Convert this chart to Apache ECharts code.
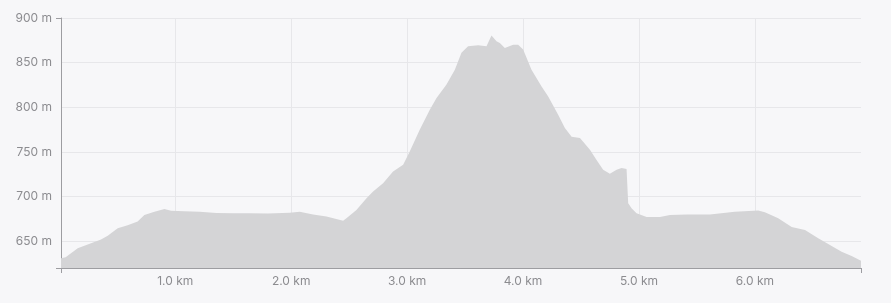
<!DOCTYPE html>
<html>
<head>
<meta charset="utf-8">
<script src="https://cdn.jsdelivr.net/npm/echarts@6/dist/echarts.min.js"></script>
<style>
html,body{margin:0;padding:0;background:#f7f7f9;}
#chart{width:891px;height:303px;}
</style>
</head>
<body>
<div id="chart"></div>
<script>
// distance along the route (km)
const distanceKm = [
  0.015, 0.055, 0.159, 0.274, 0.360, 0.418, 0.504, 0.590, 0.676, 0.734,
  0.821, 0.907, 0.964, 1.079, 1.211, 1.355, 1.500, 1.643, 1.800, 1.988,
  2.074, 2.189, 2.305, 2.448, 2.477, 2.563, 2.650, 2.707, 2.793, 2.879,
  2.966, 3.023, 3.110, 3.196, 3.254, 3.340, 3.412, 3.469, 3.526, 3.613,
  3.685, 3.728, 3.771, 3.800, 3.843, 3.915, 3.958, 4.001, 4.073, 4.160,
  4.217, 4.303, 4.361, 4.419, 4.491, 4.577, 4.634, 4.691, 4.749, 4.807,
  4.850, 4.893, 4.907, 4.936, 4.979, 5.066, 5.181, 5.267, 5.411, 5.611,
  5.827, 6.028, 6.086, 6.201, 6.317, 6.432, 6.546, 6.662, 6.748, 6.834,
  6.915
];
// elevation (m)
const elevationM = [
  631, 632, 642, 647.7, 652, 656, 664.5, 668, 672, 679.5,
  683, 686, 684, 683.6, 683, 681.7, 681.2, 681.4, 681.0, 682,
  683, 680, 677.6, 673, 675.7, 685, 698, 705.6, 715, 728,
  735.6, 750.5, 775, 797.3, 810.4, 825.4, 842, 861, 868.4, 869.5,
  868.4, 880.4, 874, 872, 866.5, 870, 870, 864.6, 842, 823.4,
  812, 791.7, 776.8, 767, 765.5, 752.4, 741, 730, 725.5, 730,
  732, 730.8, 692.6, 687, 681.4, 677, 677, 679.5, 680, 680,
  683, 684.3, 682.5, 675.8, 666, 662.6, 653.3, 644.7, 638.3, 633.4,
  628
];
const xMin = 0.015, xMax = 6.915;
const yMin = 620, yMax = 900;

const profile = distanceKm.map((d, i) => [d, elevationM[i]]);

const labelColor = '#8c8c90';
const axisColor = '#9d9da1';
const gridColor = '#e7e7ea';
const fontFamily = 'Inter, "Noto Sans", sans-serif';

const chart = echarts.init(document.getElementById('chart'));
chart.setOption({
  animation: false,
  backgroundColor: '#f7f7f9',
  grid: { left: 61, top: 18, width: 800, height: 250, containLabel: false },
  xAxis: [{
    type: 'value', min: xMin, max: xMax, minInterval: 1, maxInterval: 1,
    axisLine: { show: true, lineStyle: { color: axisColor, width: 1 } },
    axisTick: { show: false },
    axisLabel: {
      color: labelColor, fontSize: 12, fontFamily: fontFamily, margin: 7,
      showMinLabel: false, showMaxLabel: false,
      formatter: v => v.toFixed(1) + ' km'
    },
    splitLine: { show: true, showMinLine: false, showMaxLine: false, lineStyle: { color: gridColor, width: 1 } }
  }, {
    type: 'value', min: xMin, max: xMax, position: 'bottom',
    axisLine: { show: false },
    axisTick: { show: true, length: 5, customValues: [xMin, xMax], lineStyle: { color: axisColor } },
    axisLabel: { show: false },
    splitLine: { show: false }
  }],
  yAxis: [{
    type: 'value', min: yMin, max: yMax, minInterval: 50, maxInterval: 50,
    axisLine: { show: true, lineStyle: { color: axisColor, width: 1 } },
    axisTick: { show: false },
    axisLabel: {
      color: labelColor, fontSize: 12, fontFamily: fontFamily, margin: 9,
      showMinLabel: false,
      formatter: v => v + ' m'
    },
    splitLine: { show: true, showMinLine: false, lineStyle: { color: gridColor, width: 1 } }
  }, {
    type: 'value', min: yMin, max: yMax, position: 'left',
    axisLine: { show: false },
    axisTick: { show: true, length: 5, customValues: [yMin, yMax], lineStyle: { color: axisColor } },
    axisLabel: { show: false },
    splitLine: { show: false }
  }],
  series: [{
    type: 'line',
    xAxisIndex: 0, yAxisIndex: 0,
    data: profile,
    showSymbol: false,
    smooth: false,
    lineStyle: { width: 0, color: '#d4d4d6' },
    areaStyle: { color: '#d4d4d6', opacity: 1 },
    silent: true
  }]
});
</script>
</body>
</html>
